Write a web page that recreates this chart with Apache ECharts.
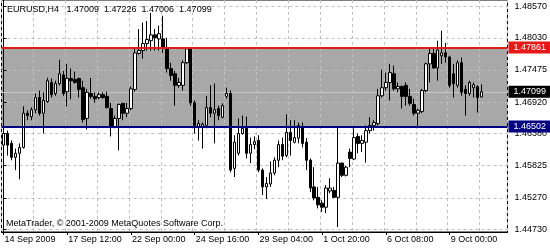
<!DOCTYPE html>
<html><head><meta charset="utf-8">
<script src="https://cdn.jsdelivr.net/npm/echarts@6/dist/echarts.min.js"></script>
<style>html,body{margin:0;padding:0;background:#fff}#c{width:550px;height:250px}</style>
</head><body><div id="c"></div>
<script>
const symbolName = 'EURUSD,H4';
const copyright = 'MetaTrader, \u00a9 2001-2009 MetaQuotes Software Corp.';
const xTickLabels = ['14 Sep 2009','17 Sep 12:00','22 Sep 00:00','24 Sep 16:00','29 Sep 04:00','1 Oct 20:00','6 Oct 08:00','9 Oct 00:00'];
const yTickLabels = [1.48570,1.48030,1.47475,1.46920,1.46380,1.45825,1.45270,1.44730];
const resistance = 1.47861;
const support = 1.46502;
const bid = 1.47099;

const opens = [1.4618,1.4638,1.4621,1.4597,1.4604,1.4614,1.4673,1.4667,1.4679,1.4700,
1.4673,1.4693,1.4726,1.4707,1.4724,1.4739,1.4710,1.4733,1.4731,1.4733,
1.4717,1.4664,1.4707,1.4702,1.4700,1.4705,1.4702,1.4681,1.4649,1.4664,
1.4690,1.4673,1.4681,1.4714,1.4776,1.4781,1.4793,1.4798,1.4808,1.4801,
1.4801,1.4786,1.4750,1.4741,1.4721,1.4721,1.4760,1.4784,1.4691,1.4650,
1.4649,1.4652,1.4683,1.4673,1.4681,1.4666,1.4702,1.4707,1.4578,1.4604,
1.4638,1.4647,1.4604,1.4619,1.4626,1.4575,1.4546,1.4551,1.4570,1.4592,
1.4619,1.4600,1.4640,1.4623,1.4630,1.4649,1.4623,1.4592,1.4546,1.4528,
1.4518,1.4511,1.4539,1.4540,1.4528,1.4587,1.4566,1.4606,1.4594,1.4633,
1.4621,1.4623,1.4643,1.4652,1.4655,1.4703,1.4717,1.4726,1.4741,1.4715,
1.4719,1.4721,1.4702,1.4688,1.4673,1.4676,1.4712,1.4758,1.4776,1.4751,
1.4772,1.4777,1.4770,1.4741,1.4721,1.4760,1.4714,1.4707,1.4717,1.4719,
1.47009];
const closes = [1.4638,1.4618,1.4597,1.4604,1.4614,1.4673,1.4669,1.4679,1.4700,1.4673,
1.4695,1.4729,1.4705,1.4724,1.4741,1.4707,1.4733,1.4729,1.4726,1.4714,
1.4662,1.4709,1.4702,1.4698,1.4705,1.4700,1.4683,1.4650,1.4664,1.4688,
1.4673,1.4681,1.4715,1.4777,1.4781,1.4793,1.4800,1.4808,1.4803,1.4810,
1.4786,1.4750,1.4738,1.4721,1.4726,1.4760,1.4784,1.4691,1.4652,1.4655,
1.4654,1.4683,1.4673,1.4679,1.4669,1.4686,1.4707,1.4575,1.4623,1.4638,
1.4647,1.4604,1.4619,1.4624,1.4575,1.4546,1.4552,1.4570,1.4592,1.4619,
1.4599,1.4640,1.4626,1.4631,1.4652,1.4621,1.4592,1.4544,1.4527,1.4515,
1.4511,1.4544,1.4544,1.4528,1.4587,1.4566,1.4580,1.4595,1.4631,1.4621,
1.4626,1.4643,1.4652,1.4657,1.4703,1.4717,1.4726,1.4743,1.4715,1.4719,
1.4702,1.4702,1.4690,1.4673,1.4678,1.4712,1.4758,1.4776,1.4751,1.4782,
1.4777,1.4770,1.4721,1.4724,1.4760,1.4709,1.4707,1.4726,1.4722,1.4700,
1.47099];
const lows = [1.4614,1.4600,1.4592,1.4575,1.4559,1.4612,1.4661,1.4661,1.4673,1.4669,
1.4638,1.4691,1.4700,1.4703,1.4721,1.4703,1.4685,1.4697,1.4724,1.4700,
1.4657,1.4645,1.4698,1.4691,1.4697,1.4698,1.4681,1.4633,1.4647,1.4609,
1.4661,1.4666,1.4678,1.4710,1.4774,1.4767,1.4781,1.4781,1.4781,1.4781,
1.4777,1.4743,1.4729,1.4686,1.4717,1.4712,1.4758,1.4686,1.4638,1.4626,
1.4612,1.4647,1.4666,1.4621,1.4661,1.4664,1.4698,1.4571,1.4563,1.4600,
1.4636,1.4595,1.4587,1.4611,1.4571,1.4532,1.4525,1.4546,1.4566,1.4580,
1.4592,1.4597,1.4600,1.4621,1.4621,1.4614,1.4575,1.4537,1.4523,1.4509,
1.4503,1.4501,1.4535,1.4527,1.4477,1.4563,1.4564,1.4580,1.4592,1.4604,
1.4606,1.4588,1.4638,1.4643,1.4652,1.4700,1.4712,1.4695,1.4712,1.4709,
1.4681,1.4686,1.4686,1.4669,1.4649,1.4673,1.4709,1.4726,1.4750,1.4729,
1.4758,1.4760,1.4717,1.4700,1.4717,1.4703,1.4669,1.4703,1.4700,1.4674,
1.47006];
const highs = [1.4643,1.4643,1.4626,1.4612,1.4621,1.4685,1.4678,1.4683,1.4707,1.4712,
1.4709,1.4734,1.4733,1.4729,1.4765,1.4746,1.4758,1.4750,1.4745,1.4734,
1.4729,1.4715,1.4734,1.4709,1.4709,1.4709,1.4710,1.4691,1.4669,1.4690,
1.4691,1.4691,1.4719,1.4784,1.4818,1.4829,1.4832,1.4846,1.4818,1.4824,
1.4841,1.4803,1.4760,1.4746,1.4734,1.4764,1.4786,1.4786,1.4695,1.4661,
1.4657,1.4703,1.4721,1.4724,1.4686,1.4690,1.4717,1.4712,1.4635,1.4664,
1.4669,1.4667,1.4631,1.4633,1.4635,1.4578,1.4563,1.4590,1.4597,1.4626,
1.4631,1.4671,1.4661,1.4661,1.4657,1.4657,1.4630,1.4595,1.4580,1.4546,
1.4523,1.4549,1.4561,1.4546,1.4649,1.4588,1.4582,1.4612,1.4647,1.4638,
1.4635,1.4652,1.4666,1.4661,1.4715,1.4748,1.4743,1.4758,1.4755,1.4726,
1.4721,1.4726,1.4715,1.4698,1.4681,1.4715,1.4760,1.4784,1.4784,1.4798,
1.4815,1.4794,1.4772,1.4758,1.4764,1.4769,1.4721,1.4729,1.4726,1.4721,
1.47226];

const totalSlots = 127;      // bars plus empty chart shift on the right
const labelEvery = 16;       // bars between time labels
const gridEvery = 8;         // bars between vertical grid lines
const yMin = 1.44683, yMax = 1.48681;

const FONT = 'Liberation Sans';
const slots = Array.from({length: totalSlots}, (_, i) => i);
const ohlc = opens.map((o, i) => [o, closes[i], lows[i], highs[i]]);
const last = opens.length - 1;
const header = symbolName + '   ' + [opens[last], highs[last], lows[last], closes[last]].map(v => v.toFixed(5)).join('  ');
const showLabel = i => i % labelEvery === 0 && (i / labelEvery) < xTickLabels.length;

const chart = echarts.init(document.getElementById('c'), null, {renderer: 'canvas', width: 550, height: 250});
const gridLine = {color: '#c0c0c0', type: [3, 3], width: 1};

function priceLabel(bg) {
  return {show: true, position: 'end', distance: 1, formatter: p => Number(p.value).toFixed(5),
    color: '#fff', backgroundColor: bg, padding: [2, 4, 1, 5], fontFamily: FONT, fontSize: 9};
}

chart.setOption({
  animation: false,
  backgroundColor: '#fff',
  grid: {left: 1.5, right: 40.5, top: -1, bottom: 18, show: true, borderColor: '#000', borderWidth: 1, backgroundColor: 'transparent', z: 1},
  xAxis: [
    {type: 'category', data: slots, boundaryGap: true, z: 1,
      axisLine: {show: true, lineStyle: {color: '#000'}},
      axisTick: {show: true, alignWithLabel: true, interval: showLabel, length: 3, lineStyle: {color: '#000'}},
      axisLabel: {show: true, interval: showLabel, formatter: (v, i) => xTickLabels[i / labelEvery] || '',
        align: 'left', margin: 3, padding: [0, 0, 0, 1], color: '#000', fontFamily: FONT, fontSize: 9},
      splitLine: {show: false}},
    {type: 'value', min: -0.5, max: totalSlots - 0.5, interval: gridEvery, z: 1,
      axisLine: {show: false}, axisTick: {show: false}, axisLabel: {show: false},
      splitLine: {show: true, lineStyle: gridLine}}
  ],
  yAxis: [{type: 'value', position: 'right', min: yMin, max: yMax, z: 1,
    axisLine: {show: true, lineStyle: {color: '#000'}},
    axisTick: {show: true, customValues: yTickLabels, length: 3, lineStyle: {color: '#000'}},
    axisLabel: {show: true, customValues: yTickLabels, formatter: v => v.toFixed(5), margin: 7,
      color: '#000', fontFamily: FONT, fontSize: 9},
    splitLine: {show: true, lineStyle: gridLine}}],
  series: [
    {type: 'line', data: [], z: 0, silent: true,
      markArea: {silent: true, z: 0.5, itemStyle: {color: '#a8a8a8'}, data: [[{yAxis: resistance}, {yAxis: support}]]},
      markLine: {silent: true, symbol: 'none', z: 1.5, precision: 5,
        data: [{yAxis: bid, lineStyle: {color: '#c8c8c8', width: 1, type: 'solid'}, label: priceLabel('#000')}]}},
    {type: 'candlestick', data: ohlc, barWidth: 3, z: 2, clip: false,
      itemStyle: {color: '#fff', color0: '#000', borderColor: '#000', borderColor0: '#000', borderWidth: 1},
      markLine: {silent: true, symbol: 'none', precision: 5, z: 5,
        data: [
          {yAxis: resistance, lineStyle: {color: '#e01b1b', width: 2, type: 'solid'}, label: priceLabel('#e81818')},
          {yAxis: support, lineStyle: {color: '#000080', width: 2, type: 'solid'}, label: priceLabel('#000080')}
        ]}}
  ],
  graphic: [
    {type: 'text', left: 7, top: 5, z: 10, style: {text: header, font: '9px "Liberation Sans"', fill: '#000'}},
    {type: 'text', left: 6, top: 219, z: 10, style: {text: copyright, font: '9px "Liberation Sans"', fill: '#000'}}
  ]
});
</script></body></html>
